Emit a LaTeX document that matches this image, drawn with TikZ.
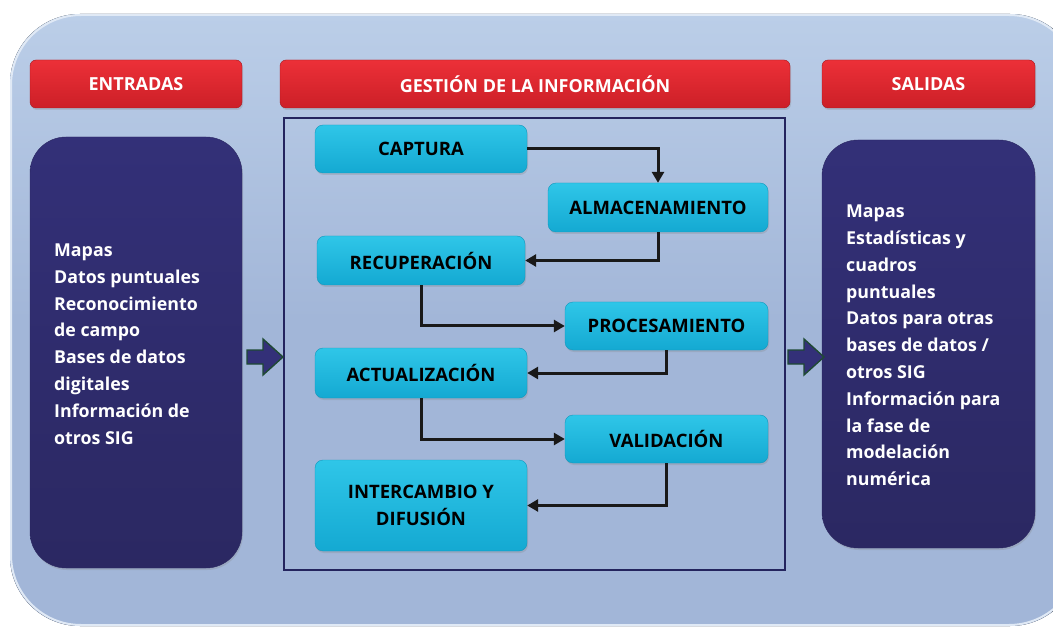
\documentclass[tikz,border=0pt]{standalone}
\usepackage{fontspec}
\setmainfont{Open Sans}
\usetikzlibrary{shadows,arrows.meta}
\definecolor{panelA}{HTML}{BBCEE8}
\definecolor{panelB}{HTML}{A2B6D8}
\definecolor{redA}{HTML}{EC3038}
\definecolor{redB}{HTML}{CC1F27}
\definecolor{navyA}{HTML}{333078}
\definecolor{navyB}{HTML}{2B2862}
\definecolor{cyanA}{HTML}{2FC6E8}
\definecolor{cyanB}{HTML}{14A9D2}
\definecolor{frameC}{HTML}{24245E}
\definecolor{arrowEdge}{HTML}{1F4A34}
\tikzset{
  header/.style={rounded corners=6pt, top color=redA, bottom color=redB,
    draw=redB!80!black, line width=0.4pt, drop shadow={opacity=0.25,shadow xshift=1pt,shadow yshift=-2pt},
    text=white, font=\bfseries\fontsize{18}{20}\selectfont, inner sep=0pt},
  sidebox/.style={rounded corners=36pt, top color=navyA, bottom color=navyB, draw=navyB,
    drop shadow={opacity=0.25,shadow xshift=1pt,shadow yshift=-2pt}},
  sidetext/.style={text=white, font=\bfseries\fontsize{17.8}{26.8}\selectfont, align=left, inner sep=0pt},
  proc/.style={rounded corners=8pt, top color=cyanA, bottom color=cyanB, draw=cyanB!90!black, line width=0.4pt,
    drop shadow={opacity=0.25,shadow xshift=1pt,shadow yshift=-2pt},
    text=black, font=\bfseries\fontsize{18.5}{27}\selectfont, align=center, inner sep=0pt},
  conn/.style={line width=3pt, black!90, -{Triangle[length=11pt,width=12pt]}},
  blockarrow/.style={fill=navyA, draw=arrowEdge, line width=1.4pt, line join=miter}
}
\begin{document}
\begin{tikzpicture}[x=1pt,y=-1pt]
\useasboundingbox (0,0) rectangle (1053,631);
\fill[white] (0,0) rectangle (1053,631);
\begin{scope}
\clip (0,0) rectangle (1053,631);
\fill[rounded corners=70pt, top color=panelA, bottom color=panelB, middle color=panelB] (10,14) rectangle (1080,626);
\draw[rounded corners=70pt, draw=white!55!panelA, line width=2pt] (11,15) rectangle (1079,625);
\end{scope}
% headers
\node[header, minimum width=212pt, minimum height=48pt] (hin) at (136,84) {ENTRADAS};
\node[header, minimum width=510pt, minimum height=48pt] (hges) at (535,84) {GESTIÓN DE LA INFORMACIÓN};
\node[header, minimum width=213pt, minimum height=48pt] (hout) at (928.5,84) {SALIDAS};
% side boxes
\node[sidebox, minimum width=212pt, minimum height=431pt] (inbox) at (136,352.5) {};
\node[sidebox, minimum width=213pt, minimum height=408pt] (outbox) at (928.5,344) {};
\node[sidetext, anchor=west] (intext) at (54,344) {Mapas\\Datos puntuales\\Reconocimiento\\de campo\\Bases de datos\\digitales\\Información de\\otros SIG};
\node[sidetext, anchor=west] (outtext) at (846,345.5) {Mapas\\Estadísticas y\\cuadros\\puntuales\\Datos para otras\\bases de datos /\\otros SIG\\Información para\\la fase de\\modelación\\numérica};
% frame
\node[draw=frameC, line width=1.3pt, minimum width=501pt, minimum height=452pt, inner sep=0pt] (frame) at (534.5,344) {};
% process nodes
\node[proc, minimum width=212pt, minimum height=48pt] (cap) at (421,149) {CAPTURA};
\node[proc, minimum width=220pt, minimum height=49pt] (alm) at (658,207.5) {ALMACENAMIENTO};
\node[proc, minimum width=208pt, minimum height=49pt] (rec) at (421,260.5) {RECUPERACIÓN};
\node[proc, minimum width=203pt, minimum height=48pt] (pro) at (666.5,326) {PROCESAMIENTO};
\node[proc, minimum width=212pt, minimum height=50pt] (act) at (421,373) {ACTUALIZACIÓN};
\node[proc, minimum width=203pt, minimum height=48pt] (val) at (666.5,439) {VALIDACIÓN};
\node[proc, minimum width=212pt, minimum height=91pt] (int) at (421,505.5) {INTERCAMBIO Y\\DIFUSIÓN};
% connectors
\draw[conn] (cap.east) -| (alm.north);
\draw[conn] (alm.south) |- (rec.east);
\draw[conn] (rec.south) |- (pro.west);
\draw[conn] (pro.south) |- (act.east);
\draw[conn] (act.south) |- (val.west);
\draw[conn] (val.south) |- (int.east);
% block arrows
\coordinate (la) at (247,343);
\coordinate (ra) at (788,343);
\draw[blockarrow] ([yshift=-7pt]la) -- ++(16,0) -- ++(0,-11) -- ++(20,18) -- ++(-20,18) -- ++(0,-11) -- ++(-16,0) -- cycle;
\draw[blockarrow] ([yshift=-7pt]ra) -- ++(16,0) -- ++(0,-11) -- ++(20,18) -- ++(-20,18) -- ++(0,-11) -- ++(-16,0) -- cycle;
\end{tikzpicture}
\end{document}
